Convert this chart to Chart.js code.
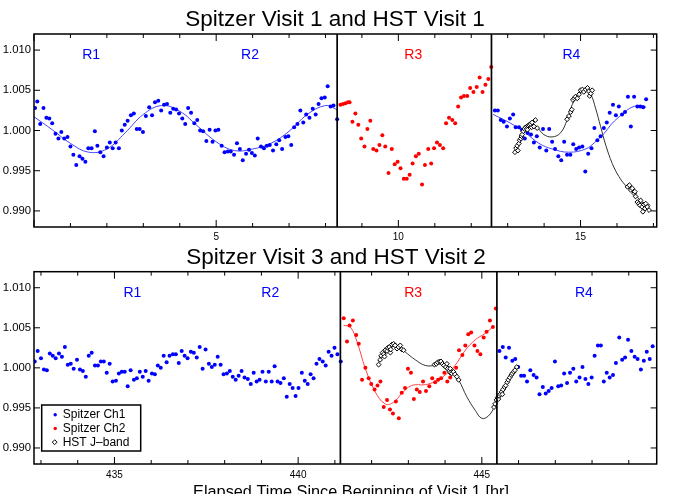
<!DOCTYPE html>
<html><head><meta charset="utf-8">
<script src="https://cdn.jsdelivr.net/npm/chart.js@4/dist/chart.umd.min.js"></script>
<style>
html,body{margin:0;padding:0;background:#fff;overflow:hidden}
#wrap{position:relative;width:684px;height:494px}
canvas{position:absolute;left:0}
#c1{top:0}
#c2{top:230px}
</style></head><body>
<div id="wrap"><canvas id="c1" width="684" height="247"></canvas><canvas id="c2" width="684" height="264"></canvas></div>
<script>
// ---------- Panel 1: Spitzer Visit 1 and HST Visit 1 ----------
const v1Ch1T = [0.03,0.09,0.17,0.26,0.34,0.42,0.50,0.59,0.67,0.75,0.83,0.92,1.00,1.08,1.16,1.25,1.33,1.41,1.49,1.58,1.67,1.74,1.82,1.91,2.00,2.08,2.16,2.24,2.33,2.41,2.49,2.57,2.66,2.74,2.82,2.90,2.99,3.07,3.16,3.24,3.32,3.41,3.49,3.57,3.65,3.74,3.82,3.90,3.98,4.07,4.15,4.23,4.31,4.40,4.48,4.56,4.64,4.73,4.82,4.90,4.98,5.06,5.15,5.23,5.32,5.40,5.49,5.57,5.65,5.73,5.82,5.90,5.98,6.06,6.14,6.23,6.31,6.39,6.47,6.56,6.65,6.73,6.81,6.90,6.98,7.06,7.14,7.23,7.31,7.39,7.47,7.56,7.65,7.73,7.81,7.89,7.98,8.06,8.14,8.22,8.32,
  12.65,12.73,12.81,12.89,12.98,13.06,13.15,13.22,13.31,13.39,13.47,13.55,13.64,13.72,13.80,13.88,13.97,14.06,14.14,14.22,14.30,14.39,14.47,14.55,14.63,14.72,14.80,14.88,14.96,15.05,15.13,15.21,15.30,15.38,15.46,15.55,15.64,15.72,15.80,15.89,15.97,16.05,16.14,16.22,16.30,16.38,16.47,16.56,16.64,16.72,16.80];
const v1Ch1F = [1.0028,1.0036,1.0008,1.0028,1.0016,1.0015,1.0009,0.9996,0.9990,0.9998,0.9990,0.9992,0.9980,0.9970,0.9957,0.9968,0.9965,0.9961,0.9978,0.9978,0.9999,0.9981,0.9973,0.9968,0.9979,0.9985,0.9978,0.9985,0.9978,1.0000,1.0007,1.0012,1.0019,1.0021,1.0002,1.0002,0.9998,1.0018,1.0029,1.0019,1.0035,1.0037,1.0025,1.0032,1.0033,1.0022,1.0027,1.0026,1.0021,1.0015,1.0008,1.0028,1.0022,1.0009,1.0013,1.0000,0.9999,0.9987,1.0001,0.9986,1.0000,1.0001,0.9981,0.9973,0.9974,0.9974,0.9970,0.9984,0.9977,0.9963,0.9971,0.9976,0.9972,0.9969,0.9990,0.9980,0.9978,0.9981,0.9982,0.9975,0.9983,0.9988,0.9977,0.9992,0.9993,0.9982,1.0004,1.0008,1.0025,1.0010,1.0020,1.0016,1.0027,1.0020,1.0033,1.0040,1.0041,1.0055,1.0030,1.0031,1.0014,
  1.0025,1.0025,1.0013,1.0011,1.0005,1.0015,1.0020,1.0004,1.0004,1.0001,0.9990,0.9997,0.9995,0.9985,0.9993,0.9979,1.0002,0.9975,1.0002,0.9986,0.9977,0.9968,0.9963,0.9986,0.9970,0.9970,0.9983,0.9977,0.9979,0.9980,0.9949,0.9971,0.9978,1.0003,0.9988,0.9993,1.0003,1.0010,1.0022,1.0032,1.0019,1.0030,1.0020,1.0023,1.0042,1.0005,1.0042,1.0030,1.0030,1.0029,1.0039];
const v1Ch1FitAT = [0,0.5,1.0,1.5,2.0,2.5,3.0,3.5,4.0,4.5,5.0,5.5,6.0,6.5,7.0,7.5,8.0,8.32];
const v1Ch1FitAF = [1.0017,1.0001,0.9984,0.9973,0.9977,0.9997,1.0020,1.0031,1.0024,1.0005,0.9986,0.9975,0.9977,0.9984,0.9999,1.0020,1.0031,1.0026];
const v1Ch1FitBT = [12.60,13.08,13.49,13.86,14.22,14.68,15.14,15.41,15.64,15.87,16.14,16.41,16.69,16.80];
const v1Ch1FitBF = [1.0020,1.0009,0.9997,0.9984,0.9977,0.9973,0.9977,0.9986,0.9996,1.0009,1.0020,1.0029,1.0031,1.0029];
const v1Ch2T = [8.41,8.48,8.55,8.62,8.66,8.74,8.82,8.90,8.98,9.07,9.15,9.23,9.31,9.40,9.48,9.56,9.64,9.73,9.82,9.90,9.98,10.06,10.15,10.23,10.31,10.39,10.48,10.56,10.65,10.73,10.82,10.90,10.98,11.06,11.14,11.23,11.31,11.39,11.48,11.56,11.64,11.72,11.80,11.89,11.97,12.06,12.15,12.23,12.31,12.39,12.47,12.55];
const v1Ch2F = [1.0032,1.0033,1.0034,1.0035,1.0035,1.0011,1.0021,1.0007,0.9990,0.9980,1.0002,1.0012,0.9977,0.9975,0.9982,0.9994,0.9980,0.9947,0.9977,0.9958,0.9961,0.9953,0.9940,0.9940,0.9945,0.9959,0.9968,0.9971,0.9933,0.9957,0.9977,0.9959,0.9978,0.9985,0.9982,0.9978,1.0009,1.0016,1.0013,1.0009,1.0030,1.0041,1.0043,1.0043,1.0053,1.0048,1.0054,1.0066,1.0048,1.0057,1.0064,1.0079];
const v1HstT = [13.20,13.23,13.26,13.28,13.31,13.33,13.36,13.38,13.40,13.43,13.46,13.49,13.53,13.54,13.56,13.59,13.63,13.66,13.67,13.72,13.76,13.81,
  14.63,14.68,14.73,14.76,14.79,14.83,14.86,14.91,14.96,15.00,15.05,15.09,15.14,15.19,15.23,15.25,15.28,15.32,
  16.29,16.34,16.38,16.42,16.47,16.49,16.51,16.56,16.60,16.63,16.65,16.69,16.71,16.74,16.77,16.79,16.83,16.88];
const v1HstF = [0.9973,0.9978,0.9981,0.9975,0.9984,0.9988,0.9990,0.9993,0.9995,0.9999,1.0002,1.0004,1.0005,1.0001,1.0006,1.0007,1.0008,1.0004,1.0010,1.0005,1.0013,1.0003,
  1.0014,1.0018,1.0023,1.0026,1.0038,1.0040,1.0042,1.0040,1.0045,1.0050,1.0051,1.0048,1.0051,1.0053,1.0049,1.0043,1.0046,1.0050,
  0.9930,0.9932,0.9926,0.9928,0.9922,0.9924,0.9918,0.9911,0.9909,0.9907,0.9913,0.9905,0.9899,0.9908,0.9903,0.9909,0.9905,0.9901];
const v1HstFitT = [13.20,13.49,13.76,13.99,14.22,14.45,14.63,14.77,14.96,15.14,15.28,15.41,15.55,15.69,15.87,16.05,16.23,16.47,16.69,16.92];
const v1HstFitF = [0.9974,1.0001,1.0005,0.9995,0.9992,0.9997,1.0013,1.0032,1.0045,1.0051,1.0045,1.0028,1.0005,0.9982,0.9959,0.9943,0.9932,0.9922,0.9911,0.9907];
const v1Bounds = [8.32, 12.555];
const v1RegionX = [1.57, 5.93, 10.41, 14.75];
const v1XTicks = [5, 10, 15];

// ---------- Panel 2: Spitzer Visit 3 and HST Visit 2 ----------
const v3Ch1T = [432.83,432.91,433.00,433.08,433.16,433.24,433.32,433.40,433.49,433.57,433.65,433.73,433.81,433.89,433.98,434.06,434.14,434.22,434.30,434.38,434.47,434.55,434.63,434.71,434.79,434.87,434.95,435.04,435.12,435.20,435.28,435.36,435.44,435.53,435.61,435.69,435.77,435.85,435.93,436.02,436.10,436.18,436.26,436.34,436.42,436.50,436.59,436.67,436.75,436.83,436.91,436.99,437.08,437.16,437.24,437.32,437.40,437.48,437.57,437.65,437.73,437.81,437.89,437.97,438.06,438.14,438.22,438.30,438.38,438.46,438.54,438.63,438.71,438.79,438.87,438.95,439.03,439.12,439.20,439.28,439.36,439.44,439.52,439.61,439.69,439.77,439.85,439.93,440.01,440.10,440.18,440.26,440.34,440.42,440.50,440.58,440.67,440.75,440.83,440.91,440.99,441.07,441.16,
  445.48,445.57,445.65,445.74,445.83,445.91,445.99,446.07,446.15,446.23,446.32,446.41,446.49,446.57,446.66,446.74,446.82,446.90,446.99,447.08,447.16,447.24,447.32,447.40,447.49,447.57,447.66,447.74,447.82,447.90,447.99,448.07,448.16,448.24,448.32,448.40,448.48,448.57,448.65,448.74,448.82,448.90,448.98,449.07,449.16,449.24,449.33,449.41,449.49,449.57,449.65];
const v3Ch1F = [1.0008,1.0021,1.0012,0.9998,0.9997,1.0018,1.0015,1.0012,1.0018,1.0014,1.0026,1.0004,1.0005,0.9999,1.0010,0.9998,0.9996,0.9989,1.0015,1.0019,1.0003,1.0003,1.0008,1.0008,0.9994,1.0005,0.9983,0.9984,0.9993,0.9995,0.9995,0.9977,0.9997,0.9985,0.9987,0.9995,0.9989,0.9996,0.9984,0.9993,0.9992,1.0003,1.0000,1.0015,1.0007,1.0015,1.0017,1.0017,1.0006,1.0021,1.0015,1.0012,1.0020,1.0019,1.0013,1.0026,0.9999,1.0023,1.0005,1.0001,1.0004,1.0014,1.0004,0.9992,0.9993,0.9996,0.9989,0.9985,0.9990,0.9996,0.9988,0.9986,0.9980,0.9994,0.9983,0.9985,0.9995,0.9983,0.9995,0.9983,1.0002,0.9983,0.9981,0.9987,0.9964,0.9980,0.9975,0.9965,0.9975,0.9994,0.9984,0.9980,0.9992,0.9987,1.0005,1.0011,1.0008,1.0003,1.0020,1.0015,1.0025,1.0017,1.0008,
  1.0021,1.0026,1.0013,1.0025,1.0009,1.0011,1.0001,0.9990,0.9990,0.9983,0.9997,0.9991,0.9988,0.9967,0.9976,0.9968,0.9971,0.9975,1.0008,0.9977,0.9978,0.9993,0.9981,0.9994,0.9999,0.9983,0.9988,1.0001,0.9986,0.9980,0.9988,1.0015,1.0028,1.0028,0.9983,0.9994,0.9988,0.9991,1.0006,1.0038,1.0010,1.0013,1.0035,1.0021,1.0014,1.0011,0.9998,1.0009,1.0020,1.0011,1.0027];
const v3Ch2T = [441.24,441.33,441.40,441.49,441.58,441.65,441.74,441.83,441.92,441.99,442.08,442.16,442.24,442.33,442.42,442.50,442.58,442.66,442.74,442.82,442.91,442.99,443.07,443.15,443.23,443.31,443.40,443.48,443.57,443.65,443.73,443.81,443.89,443.98,444.06,444.14,444.22,444.30,444.38,444.47,444.55,444.63,444.71,444.80,444.88,444.96,445.05,445.13,445.22,445.30,445.38];
const v3Ch2F = [1.0062,1.0033,1.0053,1.0059,1.0041,1.0030,0.9985,1.0000,0.9987,0.9980,0.9973,0.9978,0.9983,0.9951,0.9960,0.9948,0.9943,0.9958,0.9937,0.9969,0.9975,0.9999,0.9994,0.9961,0.9973,0.9970,0.9983,0.9971,0.9977,0.9987,0.9982,0.9985,0.9987,0.9994,0.9983,0.9988,0.9994,1.0000,1.0022,1.0016,1.0028,1.0042,1.0044,1.0028,1.0021,1.0017,1.0038,1.0045,1.0059,1.0051,1.0074];
const v3Ch2FitT = [441.24,441.42,441.60,441.83,442.10,442.37,442.60,442.82,443.09,443.46,443.73,444.00,444.27,444.55,444.82,445.09,445.34];
const v3Ch2FitF = [1.0053,1.0051,1.0033,0.9999,0.9970,0.9955,0.9957,0.9968,0.9978,0.9979,0.9983,0.9991,1.0003,1.0022,1.0035,1.0043,1.0053];
const v2HstT = [442.19,442.23,442.26,442.30,442.33,442.35,442.37,442.42,442.44,442.48,442.51,442.52,442.55,442.60,442.64,442.69,442.73,442.78,442.82,442.87,
  443.71,443.76,443.80,443.85,443.89,443.93,443.97,444.02,444.05,444.07,444.11,444.14,444.14,444.18,444.23,444.27,444.32,444.37,
  445.33,445.36,445.40,445.43,445.45,445.47,445.50,445.54,445.56,445.58,445.62,445.65,445.69,445.72,445.76,445.80,445.83,445.87,445.90,445.95];
const v2HstF = [1.0004,1.0010,1.0015,1.0019,1.0017,1.0014,1.0022,1.0021,1.0025,1.0026,1.0019,1.0023,1.0029,1.0030,1.0028,1.0024,1.0026,1.0028,1.0023,1.0022,
  1.0004,1.0005,1.0007,1.0008,1.0008,1.0005,1.0003,1.0001,1.0005,0.9999,0.9996,0.9999,0.9994,0.9993,0.9995,0.9992,0.9989,0.9985,
  0.9951,0.9955,0.9960,0.9963,0.9961,0.9965,0.9967,0.9970,0.9967,0.9973,0.9976,0.9978,0.9982,0.9985,0.9988,0.9991,0.9993,0.9995,0.9997,1.0001];
const v2HstFitT = [442.19,442.46,442.69,442.91,443.19,443.46,443.73,443.91,444.14,444.37,444.59,444.82,445.00,445.18,445.34,445.54,445.95];
const v2HstFitF = [1.0008,1.0022,1.0028,1.0020,1.0010,1.0003,1.0003,1.0005,1.0000,0.9985,0.9964,0.9947,0.9937,0.9940,0.9951,0.9968,1.0001];
const v3Bounds = [441.15, 445.41];
const v3RegionX = [435.49, 439.24, 443.13, 447.78];
const v3XTicks = [435, 440, 445];

// ---------- shared ----------
const yTicks = [0.990, 0.995, 1.000, 1.005, 1.010];
const regionNames = ['R1', 'R2', 'R3', 'R4'];
const regionColors = ['#0000ff', '#0000ff', '#ff0000', '#0000ff'];
const regionLabelY = 1.0089;
const legendNames = ['Spitzer Ch1', 'Spitzer Ch2', 'HST J\u2013band'];

const FONT = '"Liberation Sans", Arial, Helvetica, sans-serif';
const BLUE = '#0000ff', RED = '#ff0000';

function pts(t, v) { return t.map((x, i) => ({ x: x, y: v[i] })); }
function dots(t, v, c) { return { data: pts(t, v), backgroundColor: c, borderWidth: 0, pointRadius: 2.0, showLine: false }; }
function diamonds(t, v) { return { data: pts(t, v), pointStyle: 'rectRot', pointRadius: 2.4, backgroundColor: '#fff', borderColor: '#000', borderWidth: 1, showLine: false }; }
function curve(t, v, c) { return { data: pts(t, v), showLine: true, borderColor: c, borderWidth: 1, pointRadius: 0, tension: 0.4, fill: false }; }

const deco = {
  id: 'deco',
  afterDatasetsDraw(chart, args, o) {
    const ctx = chart.ctx, a = chart.chartArea, x = chart.scales.x, y = chart.scales.y;
    function seg(x1, y1, x2, y2) { ctx.beginPath(); ctx.moveTo(x1, y1); ctx.lineTo(x2, y2); ctx.stroke(); }
    ctx.save();
    ctx.strokeStyle = '#000';
    ctx.lineWidth = 1.7;
    o.bounds.forEach(b => { const px = x.getPixelForValue(b); seg(px, a.top, px, a.bottom); });
    ctx.lineWidth = 1.5;
    ctx.strokeRect(a.left, a.top, a.right - a.left, a.bottom - a.top);
    ctx.lineWidth = 1;
    for (let t = Math.ceil(x.min); t <= x.max; t++) {
      const px = x.getPixelForValue(t);
      const len = (t % 5 === 0) ? 7 : 4;
      seg(px, a.bottom, px, a.bottom - len);
      seg(px, a.top, px, a.top + len);
    }
    yTicks.forEach(v => { const py = y.getPixelForValue(v); seg(a.left, py, a.left + 6, py); seg(a.right, py, a.right - 6, py); });
    ctx.font = '14px ' + FONT;
    ctx.textAlign = 'center';
    ctx.textBaseline = 'alphabetic';
    o.regionX.forEach((rx, i) => { ctx.fillStyle = regionColors[i]; ctx.fillText(regionNames[i], x.getPixelForValue(rx), y.getPixelForValue(regionLabelY)); });
    ctx.fillStyle = '#000';
    ctx.font = '22.5px ' + FONT;
    ctx.fillText(o.title, o.titleX, o.titleY);
    if (o.xTitle) {
      ctx.font = '16.3px ' + FONT;
      ctx.fillText(o.xTitle, o.xTitleX, o.xTitleY);
    }
    if (o.legend) {
      const L = o.legend;
      ctx.fillStyle = '#fff';
      ctx.fillRect(L.x, L.y, L.w, L.h);
      ctx.lineWidth = 1.5;
      ctx.strokeRect(L.x, L.y, L.w, L.h);
      ctx.font = '12px ' + FONT;
      ctx.textAlign = 'left';
      legendNames.forEach((name, i) => {
        const yy = L.y + 13.3 + i * 13.7;
        const my = yy - 3.5;
        if (i < 2) {
          ctx.fillStyle = i === 0 ? BLUE : RED;
          ctx.beginPath(); ctx.arc(L.x + 13.5, my, 1.7, 0, Math.PI * 2); ctx.fill();
        } else {
          ctx.fillStyle = '#fff'; ctx.strokeStyle = '#000'; ctx.lineWidth = 1;
          ctx.beginPath(); ctx.moveTo(L.x + 13, my - 2.4); ctx.lineTo(L.x + 15.4, my); ctx.lineTo(L.x + 13, my + 2.4); ctx.lineTo(L.x + 10.6, my); ctx.closePath(); ctx.fill(); ctx.stroke();
        }
        ctx.fillStyle = '#000';
        ctx.fillText(name, L.x + 21, yy);
      });
    }
    ctx.restore();
  }
};

function makeOptions(xmin, xmax, xTicks, xHeight, xPad, padTop, deco) {
  return {
    responsive: false, animation: false, events: [],
    layout: { padding: { top: padTop, right: 27.3, left: 0, bottom: 0 } },
    plugins: { legend: { display: false }, tooltip: { enabled: false }, title: { display: false }, deco: deco },
    scales: {
      x: {
        type: 'linear', min: xmin, max: xmax,
        grid: { display: false, drawTicks: false }, border: { display: false },
        ticks: { color: '#000', font: { size: 10, family: FONT }, padding: xPad, maxRotation: 0, autoSkip: false, callback: v => String(v) },
        afterBuildTicks: s => { s.ticks = xTicks.map(v => ({ value: v })); },
        afterFit: s => { s.height = xHeight; }
      },
      y: {
        type: 'linear', min: 0.988, max: 1.012,
        grid: { display: false, drawTicks: false }, border: { display: false },
        ticks: { color: '#000', font: { size: 11.3, family: FONT }, padding: 3, callback: v => Number(v).toFixed(3) },
        afterBuildTicks: s => { s.ticks = yTicks.map(v => ({ value: v })); },
        afterFit: s => { s.width = 34; }
      }
    }
  };
}

new Chart(document.getElementById('c1'), {
  type: 'scatter',
  data: { datasets: [
    diamonds(v1HstT, v1HstF),
    curve(v1HstFitT, v1HstFitF, '#333333'),
    dots(v1Ch1T, v1Ch1F, BLUE),
    dots(v1Ch2T, v1Ch2F, RED),
    curve(v1Ch1FitAT, v1Ch1FitAF, '#4646ff'),
    curve(v1Ch1FitBT, v1Ch1FitBF, '#4646ff')
  ] },
  options: makeOptions(0, 17.09, v1XTicks, 20, 4, 34,
    { bounds: v1Bounds, regionX: v1RegionX, title: 'Spitzer Visit 1 and HST Visit 1', titleX: 335, titleY: 26.3 }),
  plugins: [deco]
});

new Chart(document.getElementById('c2'), {
  type: 'scatter',
  data: { datasets: [
    diamonds(v2HstT, v2HstF),
    curve(v2HstFitT, v2HstFitF, '#333333'),
    dots(v3Ch1T, v3Ch1F, BLUE),
    dots(v3Ch2T, v3Ch2F, RED),
    curve(v3Ch2FitT, v3Ch2FitF, '#ff4646')
  ] },
  options: makeOptions(432.81, 449.76, v3XTicks, 30, 5, 41.7,
    { bounds: v3Bounds, regionX: v3RegionX, title: 'Spitzer Visit 3 and HST Visit 2', titleX: 336, titleY: 33.7,
      xTitle: 'Elapsed Time Since Beginning of Visit 1 [hr]', xTitleX: 351, xTitleY: 266.7,
      legend: { x: 41.7, y: 175, w: 99, h: 46 } }),
  plugins: [deco]
});
</script>
</body></html>
